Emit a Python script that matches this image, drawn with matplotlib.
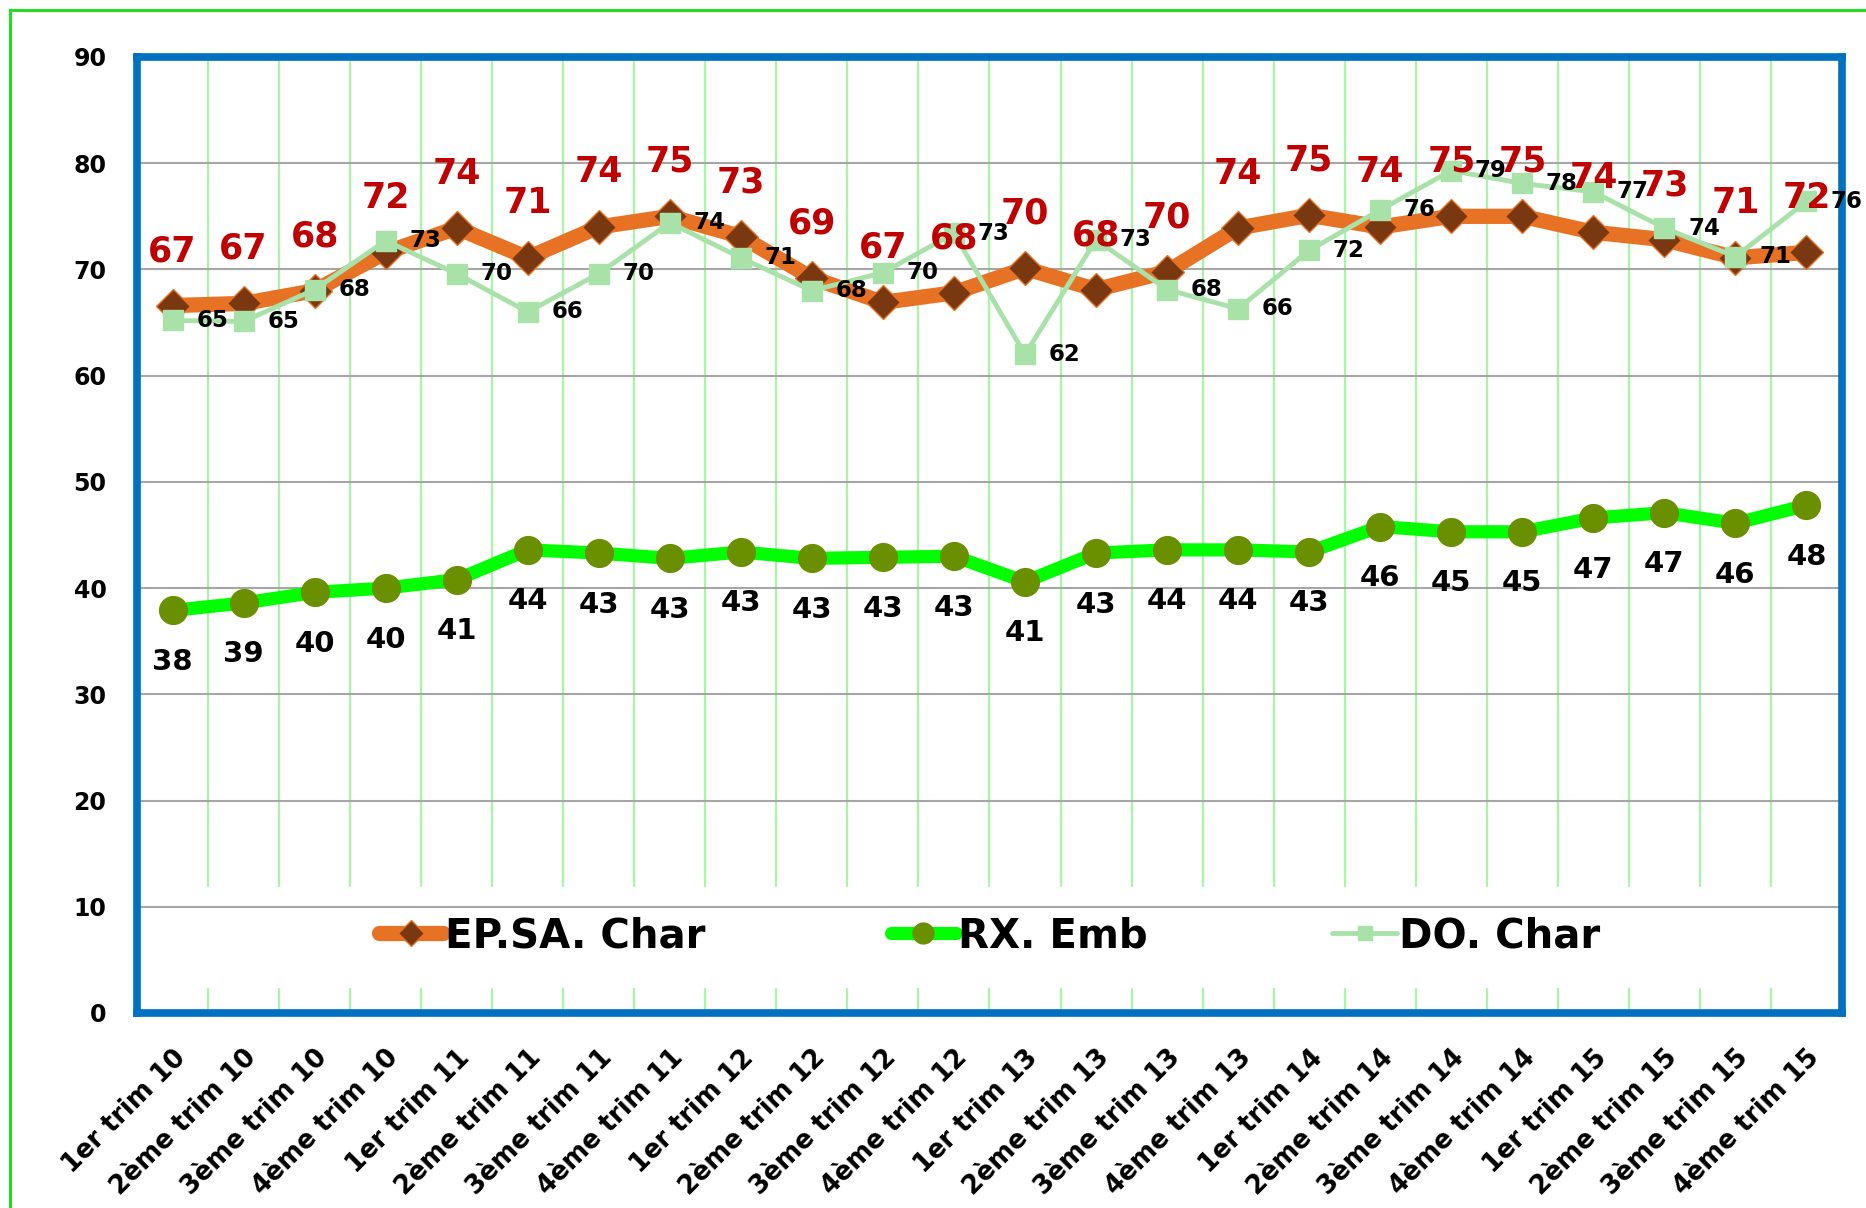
import matplotlib
matplotlib.use('Agg')
import matplotlib.pyplot as plt
from matplotlib.patches import Rectangle

# trimestres 2010 - 2015
labels = ['1er trim 10', '2ème trim 10', '3ème trim 10', '4ème trim 10',
          '1er trim 11', '2ème trim 11', '3ème trim 11', '4ème trim 11',
          '1er trim 12', '2ème trim 12', '3ème trim 12', '4ème trim 12',
          '1er trim 13', '2ème trim 13', '3ème trim 13', '4ème trim 13',
          '1er trim 14', '2ème trim 14', '3ème trim 14', '4ème trim 14',
          '1er trim 15', '2ème trim 15', '3ème trim 15', '4ème trim 15']

epsa_char = [66.6, 66.8, 68.0, 71.6, 73.9, 71.1, 74.0, 75.0, 73.1, 69.2, 66.9, 67.8,
             70.1, 68.1, 69.8, 73.9, 75.1, 74.0, 75.0, 75.0, 73.5, 72.8, 71.1, 71.6]
rx_emb = [37.9, 38.6, 39.6, 40.0, 40.8, 43.6, 43.3, 42.8, 43.4, 42.8, 42.9, 43.0,
          40.6, 43.3, 43.6, 43.6, 43.4, 45.8, 45.3, 45.3, 46.6, 47.1, 46.1, 47.8]
do_char = [65.2, 65.1, 68.1, 72.7, 69.6, 66.0, 69.6, 74.4, 71.1, 68.0, 69.7, 73.4,
           62.0, 72.8, 68.1, 66.3, 71.8, 75.6, 79.3, 78.1, 77.3, 73.9, 71.2, 76.4]

W, H = 1866, 1208
fig = plt.figure(figsize=(W / 100, H / 100), dpi=100)
ax = fig.add_axes([137 / W, 1 - 1013 / H, (1842 - 137) / W, (1013 - 57) / H])

x = list(range(len(labels)))

ax.plot(x, epsa_char, color='#E87224', lw=11, marker='D', markersize=17,
        markerfacecolor='#7A3810', markeredgecolor='#E87224', markeredgewidth=1,
        solid_capstyle='round', label='EP.SA. Char', zorder=3)
ax.plot(x, rx_emb, color='#00FF00', lw=9.5, marker='o', markersize=20,
        markerfacecolor='#6A9000', markeredgecolor='#6A9000',
        solid_capstyle='round', label='RX. Emb', zorder=3)
ax.plot(x, do_char, color='#A8E2A8', lw=3.5, marker='s', markersize=14,
        markerfacecolor='#A8E2A8', markeredgecolor='#A8E2A8',
        solid_capstyle='round', label='DO. Char', zorder=4)

for i in x:
    ax.annotate('%.0f' % epsa_char[i], (i, epsa_char[i]), xytext=(0, 27),
                textcoords='offset points', ha='center', va='bottom',
                fontsize=25, fontweight='heavy', color='#C00000', zorder=6)
    ax.annotate('%.0f' % do_char[i], (i, do_char[i]), xytext=(17, 0),
                textcoords='offset points', ha='left', va='center',
                fontsize=16.5, fontweight='heavy', color='black', zorder=6)
    ax.annotate('%.0f' % rx_emb[i], (i, rx_emb[i]), xytext=(0, -27),
                textcoords='offset points', ha='center', va='top',
                fontsize=21, fontweight='heavy', color='black', zorder=6)

ax.set_xlim(-0.5, len(labels) - 0.5)
ax.set_ylim(0, 90)
ax.set_yticks(range(0, 91, 10))
ax.set_xticks(x)
ax.set_xticklabels(labels, rotation=45, ha='right', rotation_mode='anchor',
                   fontsize=18.5, fontweight='bold')
ax.set_xticks([i + 0.5 for i in x[:-1]], minor=True)
for t in ax.get_yticklabels():
    t.set_fontsize(17)
    t.set_fontweight('bold')
ax.tick_params(axis='both', which='both', length=0)
ax.tick_params(axis='y', pad=22)
ax.tick_params(axis='x', pad=23)

ax.set_axisbelow(True)
ax.grid(axis='y', which='major', color='#A6A6A6', lw=1.5)
ax.grid(axis='x', which='minor', color='#A8F5A8', lw=1.6)

# zone blanche de la legende
ax.axhspan(2.44, 11.9, color='white', zorder=1)
ax.axhline(10, color='#A6A6A6', lw=1.5, zorder=1.1)

for s in ax.spines.values():
    s.set_color('#0070C0')
    s.set_linewidth(5.5)

leg = ax.legend(loc='center', bbox_to_anchor=(0.5, 7.2 / 90), ncol=3, frameon=False,
                prop={'size': 29, 'weight': 'bold'}, handlelength=1.6,
                handletextpad=0.05, columnspacing=4.6, markerscale=0.75)

fig.patches.append(Rectangle((10 / W, -0.1), 1.2, 1.1 - 10 / H, transform=fig.transFigure,
                             fill=False, edgecolor='#22DD22', lw=2.2))

fig.savefig('out.png', dpi=100)
